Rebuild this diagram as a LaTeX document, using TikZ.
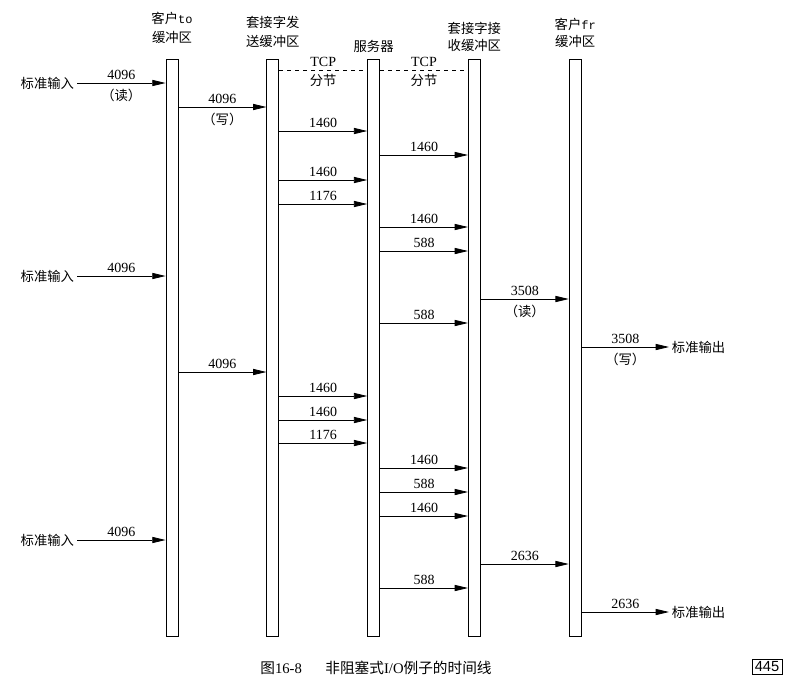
\documentclass[tikz,border=0pt]{standalone}
\usepackage{fontspec}
\setmainfont{Liberation Serif}
\setsansfont{Liberation Sans}
\setmonofont{Liberation Mono}
\newfontfamily\cjk{Noto Sans CJK SC}
\usetikzlibrary{positioning,arrows.meta}

\begin{document}
\begin{tikzpicture}[
        x=0.75pt, y=-0.75pt,
        node distance=66pt,
        buffer/.style={rectangle, draw, line width=0.6pt, minimum width=9pt, minimum height=432.75pt, inner sep=0pt},
        head/.style={font=\cjk, align=center, inner sep=1pt},
        io/.style={font=\cjk, inner sep=2pt},
        arrow/.style={line width=0.6pt, -{Triangle[length=10pt, width=4.6pt]}},
        segline/.style={dashed, line width=0.5pt},
        num/.style={midway, above=1pt, inner sep=1pt, font=\fontsize{10.5}{12}\selectfont},
        note/.style={midway, below=3pt, inner sep=1pt, font=\cjk}
    ]
        \useasboundingbox (0,0) rectangle (795,693);

        % Buffers
        \node (tobuf) [buffer] at (172,347.5) {};
        \node (sndbuf) [buffer, right=of tobuf] {};
        \node (server) [buffer, right=of sndbuf] {};
        \node (rcvbuf) [buffer, right=of server] {};
        \node (frbuf) [buffer, right=of rcvbuf] {};

        \node (tohead) [head, above=10pt of tobuf] {客户{\ttfamily\small to}\\[2pt]缓冲区};
        \node (sndhead) [head, above=7pt of sndbuf] {套接字发\\[2pt]送缓冲区};
        \node (srvhead) [head, above=3pt of server] {服务器};
        \node (rcvhead) [head, above=4pt of rcvbuf] {套接字接\\[1pt]收缓冲区};
        \node (frhead) [head, above=7pt of frbuf] {客户{\ttfamily\small fr}\\[1pt]缓冲区};

        % TCP segments
        \draw [segline] (sndbuf.east |- 0,70) -- (server.west |- 0,70) node[num] {TCP} node[note, below=2pt] {分节};
        \draw [segline] (server.east |- 0,70) -- (rcvbuf.west |- 0,70) node[num] {TCP} node[note, below=2pt] {分节};

        % Standard input / output
        \node (in1) [io, anchor=east] at (77,83) {标准输入};
        \node (in2) [io, anchor=east] at (77,276) {标准输入};
        \node (in3) [io, anchor=east] at (77,540) {标准输入};
        \node (out1) [io, anchor=west] at (669,347) {标准输出};
        \node (out2) [io, anchor=west] at (669,612) {标准输出};

        \draw [arrow] (in1) -- (tobuf.west |- in1) node[num] {4096} node[note] {（读）};
        \draw [arrow] (in2) -- (tobuf.west |- in2) node[num] {4096};
        \draw [arrow] (in3) -- (tobuf.west |- in3) node[num] {4096};

        % Client to socket send buffer
        \draw [arrow] (tobuf.east |- 0,107) -- (sndbuf.west |- 0,107) node[num] {4096} node[note] {（写）};
        \draw [arrow] (tobuf.east |- 0,372) -- (sndbuf.west |- 0,372) node[num] {4096};

        % Send buffer to server
        \draw [arrow] (sndbuf.east |- 0,131) -- (server.west |- 0,131) node[num] {1460};
        \draw [arrow] (sndbuf.east |- 0,180) -- (server.west |- 0,180) node[num] {1460};
        \draw [arrow] (sndbuf.east |- 0,204) -- (server.west |- 0,204) node[num] {1176};
        \draw [arrow] (sndbuf.east |- 0,396) -- (server.west |- 0,396) node[num] {1460};
        \draw [arrow] (sndbuf.east |- 0,420) -- (server.west |- 0,420) node[num] {1460};
        \draw [arrow] (sndbuf.east |- 0,443) -- (server.west |- 0,443) node[num] {1176};

        % Server to receive buffer
        \draw [arrow] (server.east |- 0,155) -- (rcvbuf.west |- 0,155) node[num] {1460};
        \draw [arrow] (server.east |- 0,227) -- (rcvbuf.west |- 0,227) node[num] {1460};
        \draw [arrow] (server.east |- 0,251) -- (rcvbuf.west |- 0,251) node[num] {588};
        \draw [arrow] (server.east |- 0,323) -- (rcvbuf.west |- 0,323) node[num] {588};
        \draw [arrow] (server.east |- 0,468) -- (rcvbuf.west |- 0,468) node[num] {1460};
        \draw [arrow] (server.east |- 0,492) -- (rcvbuf.west |- 0,492) node[num] {588};
        \draw [arrow] (server.east |- 0,516) -- (rcvbuf.west |- 0,516) node[num] {1460};
        \draw [arrow] (server.east |- 0,588) -- (rcvbuf.west |- 0,588) node[num] {588};

        % Receive buffer to client, then standard output
        \draw [arrow] (rcvbuf.east |- 0,299) -- (frbuf.west |- 0,299) node[num] {3508} node[note] {（读）};
        \draw [arrow] (rcvbuf.east |- 0,564) -- (frbuf.west |- 0,564) node[num] {2636};
        \draw [arrow] (frbuf.east |- out1) -- (out1) node[num] {3508} node[note] {（写）};
        \draw [arrow] (frbuf.east |- out2) -- (out2) node[num] {2636};

        % Caption
        \node (caption) [font=\cjk\fontsize{11}{13}\selectfont] at (376,668) {图{\rmfamily 16-8}\hspace{1.6em}非阻塞式{\rmfamily I/O}例子的时间线};
        \node (page) [draw, line width=0.6pt, inner sep=2pt, font=\sffamily\fontsize{11}{13}\selectfont] at (767,667) {445};
    \end{tikzpicture}
\end{document}
